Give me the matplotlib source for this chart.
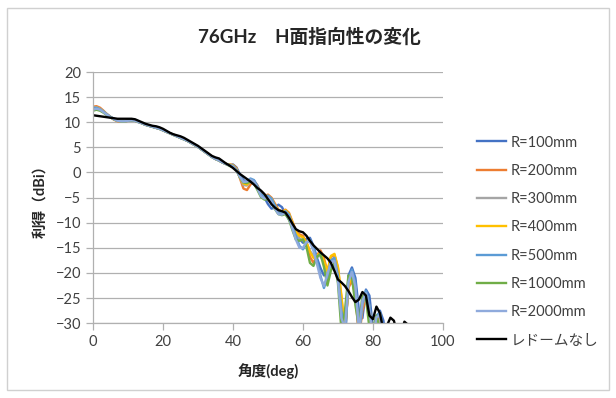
"""76GHz H-plane pattern vs radome distance (recreation of an Excel chart)."""

import matplotlib

matplotlib.use("Agg")
import matplotlib.pyplot as plt  # noqa: E402
import numpy as np  # noqa: E402

angle = np.arange(0, 91)  # deg, 1 deg step

# gain (dBi) per radome distance, values below -30 fall outside the axis
r100 = [12.6, 12.8, 12.6, 12.1, 11.6, 11.1, 10.7, 10.4, 10.2, 10.2, 10.3, 10.4, 10.3, 10.0, 9.8,
        9.5, 9.3, 9.1, 8.9, 8.7, 8.4, 8.1, 7.8, 7.5, 7.2, 6.9, 6.6, 6.3, 5.9, 5.5,
        5.1, 4.6, 4.1, 3.6, 3.1, 2.7, 2.4, 2.0, 1.7,
        1.4, 1.6, 1.0, -0.4, -1.5, -1.9, -1.6, -1.6, -2.6, -4.0, -5.0, -6.3, -7.2, -7.0, -6.4,
        -6.9, -8.2, -9.4, -10.4, -11.8, -13.2, -14.0, -13.2, -13.0, -14.6, -17.0, -19.0, -20.5,
        -19.5, -17.8, -17.5, -20.0, -26.0, -34.0, -20.5, -18.9, -21.0, -27.5, -29.0, -23.3,
        -24.5, -31.0, -29.5, -27.5, -29.5, -35.0, -33.0, -34.0, -37.0, -36.0, -38.0, -40.0]
r200 = [13.1, 13.2, 12.9, 12.3, 11.6, 11.0, 10.5, 10.2, 10.1, 10.2, 10.3, 10.4, 10.3, 10.1, 9.8,
        9.5, 9.3, 9.1, 8.9, 8.7, 8.4, 8.1, 7.8, 7.5, 7.2, 6.9, 6.6, 6.3, 5.9, 5.5,
        5.1, 4.6, 4.1, 3.6, 3.1, 2.7, 2.4, 2.0, 1.7,
        1.6, 1.5, 0.9, -1.2, -3.2, -3.5, -2.4, -1.7, -2.6, -4.2, -4.7, -4.4, -5.0, -6.2, -7.4,
        -7.8, -7.4, -8.0, -9.8, -11.6, -12.3, -12.6, -14.0, -16.8, -18.0, -16.5, -15.5, -17.0,
        -19.8, -16.8, -16.4, -19.0, -25.0, -31.5, -23.0, -21.5, -24.5, -33.0, -27.5, -25.0,
        -27.0, -33.0, -29.5, -28.8, -33.0, -37.0, -36.0, -37.0, -39.0, -38.0, -40.0, -41.0]
r300 = [12.9, 13.0, 12.7, 12.2, 11.6, 11.0, 10.6, 10.3, 10.2, 10.2, 10.3, 10.4, 10.3, 10.1, 9.8,
        9.5, 9.3, 9.1, 8.9, 8.7, 8.4, 8.1, 7.8, 7.5, 7.2, 6.9, 6.6, 6.3, 5.9, 5.5,
        5.1, 4.6, 4.1, 3.6, 3.1, 2.7, 2.4, 2.0, 1.7,
        1.5, 1.4, 0.7, -1.0, -2.5, -2.6, -1.9, -1.8, -2.8, -4.3, -4.8, -4.7, -5.4, -6.7, -7.7,
        -7.9, -7.6, -8.4, -10.3, -12.2, -13.2, -13.5, -14.0, -15.6, -16.6, -16.8, -16.6, -18.0,
        -20.5, -17.6, -16.9, -19.5, -26.5, -33.0, -22.0, -20.0, -23.0, -33.0, -26.5, -24.2,
        -26.5, -34.0, -29.0, -28.5, -33.0, -37.0, -36.0, -38.0, -39.0, -38.0, -41.0, -42.0]
r400 = [12.7, 12.9, 12.6, 12.1, 11.5, 11.0, 10.6, 10.3, 10.2, 10.2, 10.3, 10.4, 10.3, 10.1, 9.8,
        9.5, 9.3, 9.1, 8.9, 8.7, 8.4, 8.1, 7.8, 7.5, 7.2, 6.9, 6.6, 6.3, 5.9, 5.5,
        5.1, 4.6, 4.1, 3.6, 3.1, 2.7, 2.4, 2.0, 1.7,
        1.6, 1.4, 0.6, -0.9, -2.2, -2.4, -1.8, -1.8, -2.9, -4.4, -4.9, -4.6, -5.2, -6.5, -7.6,
        -7.9, -7.5, -8.2, -10.0, -11.9, -12.6, -12.9, -13.8, -15.8, -17.0, -16.6, -16.0, -17.6,
        -19.6, -16.6, -16.2, -18.8, -24.5, -32.0, -22.5, -20.6, -23.5, -31.5, -25.8, -24.0,
        -27.5, -33.5, -28.5, -28.0, -32.5, -37.0, -36.0, -37.0, -38.0, -39.0, -40.0, -41.0]
r500 = [12.8, 12.9, 12.6, 12.1, 11.5, 11.0, 10.6, 10.3, 10.2, 10.2, 10.3, 10.4, 10.3, 10.1, 9.8,
        9.5, 9.3, 9.1, 8.9, 8.7, 8.4, 8.1, 7.8, 7.5, 7.2, 6.9, 6.6, 6.3, 5.9, 5.5,
        5.1, 4.6, 4.1, 3.6, 3.1, 2.7, 2.4, 2.0, 1.7,
        1.5, 1.3, 0.5, -0.8, -1.8, -1.7, -1.2, -1.5, -2.8, -4.3, -4.8, -4.6, -5.2, -6.6, -7.9,
        -8.2, -7.7, -8.4, -10.6, -12.6, -14.6, -15.3, -14.0, -13.4, -14.8, -17.5, -20.5, -23.0,
        -21.0, -17.5, -17.0, -20.5, -27.5, -33.0, -21.5, -19.3, -22.0, -32.0, -26.0, -23.5,
        -26.5, -34.0, -28.5, -27.8, -32.0, -36.0, -34.0, -35.0, -38.0, -36.0, -37.0, -40.0]
r1000 = [12.3, 12.5, 12.3, 11.9, 11.4, 11.0, 10.6, 10.3, 10.2, 10.2, 10.3, 10.4, 10.3, 10.1, 9.8,
         9.5, 9.3, 9.1, 8.9, 8.7, 8.4, 8.1, 7.8, 7.5, 7.2, 6.9, 6.6, 6.3, 5.9, 5.5,
         5.1, 4.6, 4.1, 3.6, 3.1, 2.7, 2.4, 2.0, 1.7,
         1.3, 1.1, 0.4, -1.0, -2.0, -2.1, -1.8, -2.2, -3.5, -4.9, -5.4, -5.3, -6.0, -7.3, -8.3,
         -8.5, -8.3, -9.3, -11.5, -13.4, -13.6, -13.3, -14.8, -18.0, -18.6, -16.8, -16.2, -18.8,
         -22.5, -19.5, -18.0, -22.0, -31.5, -27.5, -20.5, -20.8, -26.5, -30.5, -24.5, -25.0,
         -31.0, -31.0, -28.5, -31.0, -35.0, -38.0, -36.0, -38.0, -40.0, -39.0, -41.0, -42.0]
r2000 = [12.5, 12.7, 12.5, 12.0, 11.5, 11.0, 10.6, 10.3, 10.2, 10.2, 10.3, 10.4, 10.3, 10.1, 9.8,
         9.5, 9.3, 9.1, 8.9, 8.7, 8.4, 8.1, 7.8, 7.5, 7.2, 6.9, 6.6, 6.3, 5.9, 5.5,
         5.1, 4.6, 4.1, 3.6, 3.1, 2.7, 2.4, 2.0, 1.7,
         1.4, 1.2, 0.4, -0.9, -1.9, -1.8, -1.4, -1.8, -3.2, -4.7, -5.2, -5.0, -5.8, -7.2, -8.3,
         -8.4, -8.0, -8.9, -11.2, -13.4, -15.0, -15.0, -13.8, -13.8, -15.6, -18.2, -21.0, -22.6,
         -20.2, -17.8, -17.6, -21.5, -29.0, -31.0, -21.8, -19.8, -22.8, -31.5, -25.5, -24.0,
         -27.5, -33.0, -28.8, -28.4, -33.0, -37.0, -35.0, -36.0, -38.0, -37.0, -39.0, -41.0]
no_radome = [11.4, 11.3, 11.2, 11.1, 11.0, 10.9, 10.8, 10.7, 10.7, 10.7, 10.7, 10.7, 10.6, 10.3,
             10.0, 9.7, 9.5, 9.3, 9.2, 9.0, 8.7, 8.3, 7.9, 7.6, 7.4, 7.2, 6.9, 6.5, 6.1, 5.7,
             5.3, 4.8, 4.3, 3.8, 3.3, 3.0, 2.8, 2.3, 1.8, 1.4, 0.9, 0.3, -0.3, -0.8, -1.3, -1.8,
             -2.4, -3.1, -3.6, -4.3, -5.3, -6.3, -7.0, -7.5, -7.7, -8.0, -9.0, -10.2, -11.3,
             -11.7, -11.9, -12.6, -13.6, -14.5, -15.2, -15.9, -16.5, -17.1, -18.0, -19.6, -21.3,
             -21.9, -22.6, -23.6, -24.8, -25.8, -25.3, -23.8, -24.5, -28.5, -29.2, -26.7, -28.0,
             -31.5, -30.5, -28.9, -29.5, -32.5, -32.0, -29.7, -30.3]

series = [r100, r200, r300, r400, r500, r1000, r2000]
labels = ["R=100mm", "R=200mm", "R=300mm", "R=400mm", "R=500mm", "R=1000mm", "R=2000mm"]
colors = ["#4472C4", "#ED7D31", "#A5A5A5", "#FFC000", "#5B9BD5", "#70AD47", "#8FAADC"]

plt.rcParams["font.family"] = ["Lato", "Noto Sans CJK JP", "DejaVu Sans"]

fig = plt.figure(figsize=(6.16, 3.98), dpi=100)
ax = fig.add_axes([0.151, 0.188, 0.568, 0.631])

for vals, lab, col in zip(series, labels, colors):
    ax.plot(angle, vals, color=col, lw=1.7, label=lab)
ax.plot(angle, no_radome, color="black", lw=1.7, label="レドームなし")

ax.set_xlim(0, 100)
ax.set_ylim(-30, 20)
ax.set_xticks(range(0, 101, 20))
ax.set_yticks(range(-30, 21, 5))
ax.yaxis.grid(True, color="#B0B0B0", lw=0.9)
ax.set_axisbelow(True)
for side in ("top", "right"):
    ax.spines[side].set_visible(False)
for side in ("left", "bottom"):
    ax.spines[side].set_color("#B0B0B0")
    ax.spines[side].set_linewidth(0.9)
ax.tick_params(length=5, width=0.9, color="#B0B0B0", labelsize=10.5, labelcolor="#404040")

# Excel centres the title over the whole chart area
fig.text(0.503, 0.907, "76GHz　H面指向性の変化", fontsize=13.5, fontweight="bold",
         color="#262626", ha="center", va="center")
ax.set_xlabel("角度(deg)", fontsize=10.5, fontweight="bold", color="#262626", labelpad=10)
ax.set_ylabel("利得（dBi）", fontsize=10.5, fontweight="bold", color="#262626", labelpad=5)

ax.legend(loc="center left", bbox_to_anchor=(1.06, 0.325), frameon=False, fontsize=10.5,
          handlelength=2.0, handletextpad=0.3, labelspacing=0.98, labelcolor="#404040")

# light chart-area border like Excel's
fig.patches.append(plt.Rectangle((0.011, 0.02), 0.977, 0.96, transform=fig.transFigure,
                                 fill=False, edgecolor="#D0D0D0", lw=1.0))

fig.savefig("out.png", dpi=100)
plt.close(fig)
